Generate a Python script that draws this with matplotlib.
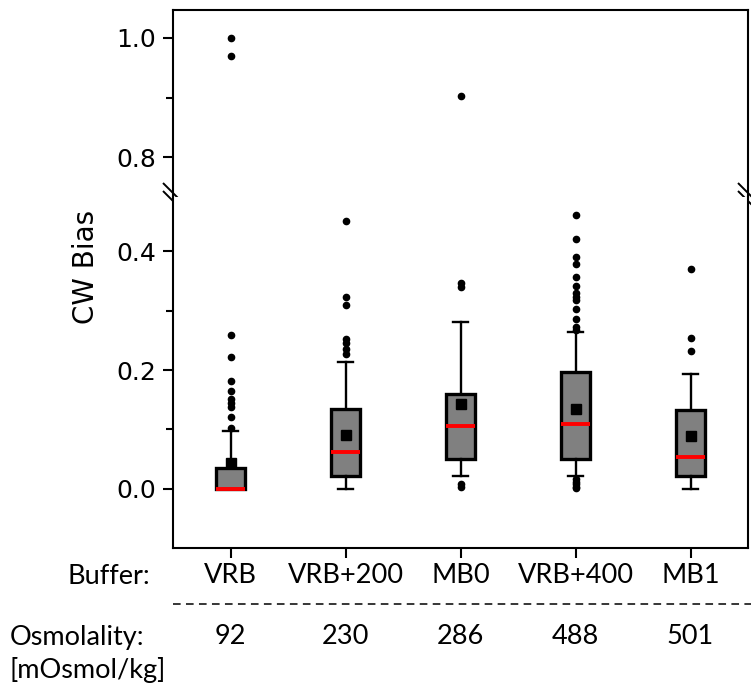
import matplotlib
matplotlib.use('Agg')
import matplotlib.pyplot as plt
from matplotlib.ticker import MultipleLocator, FormatStrFormatter
from matplotlib.lines import Line2D
import matplotlib.transforms as mtransforms

plt.rcParams['font.family'] = ['DejaVu Sans']

# ---------------- data ----------------
buffers = ['VRB', 'VRB+200', 'MB0', 'VRB+400', 'MB1']
osmolality = ['92', '230', '286', '488', '501']

q1 = [0.000, 0.021, 0.050, 0.050, 0.021]
median = [0.000, 0.062, 0.106, 0.110, 0.054]
q3 = [0.036, 0.134, 0.159, 0.196, 0.133]
whisker_low = [0.000, 0.000, 0.022, 0.021, 0.000]
whisker_high = [0.098, 0.213, 0.281, 0.264, 0.194]
means = [0.044, 0.090, 0.143, 0.134, 0.089]

fliers_vrb = [1.000, 0.970, 0.259, 0.222, 0.182, 0.164, 0.151, 0.144, 0.137, 0.121, 0.102]
fliers_vrb200 = [0.450, 0.322, 0.310, 0.252, 0.245, 0.236, 0.227]
fliers_mb0 = [0.903, 0.347, 0.340, 0.008, 0.003]
fliers_vrb400 = [0.461, 0.420, 0.390, 0.378, 0.357, 0.341, 0.329, 0.323, 0.318,
                 0.302, 0.286, 0.273, 0.268, 0.016, 0.012, 0.008, 0.004, 0.001]
fliers_mb1 = [0.370, 0.254, 0.232]
fliers = [fliers_vrb, fliers_vrb200, fliers_mb0, fliers_vrb400, fliers_mb1]

ylabel = 'CW Bias'

# ---------------- figure ----------------
stats = []
for i in range(len(buffers)):
    stats.append(dict(label=buffers[i], q1=q1[i], med=median[i], q3=q3[i],
                      whislo=whisker_low[i], whishi=whisker_high[i],
                      mean=means[i], fliers=fliers[i]))

positions = list(range(1, len(buffers) + 1))

FW, FH = 751, 691
fig = plt.figure(figsize=(FW / 100, FH / 100), dpi=100)
L = 173 / FW
W = (748 - 173) / FW
ax_top = fig.add_axes([L, (FH - 197) / FH, W, (197 - 10) / FH])
ax_bot = fig.add_axes([L, (FH - 548) / FH, W, (548 - 197) / FH])

for ax in (ax_top, ax_bot):
    ax.bxp(stats, positions=positions, widths=0.25, showmeans=True, patch_artist=True,
           boxprops=dict(facecolor='#808080', edgecolor='black', linewidth=2.4),
           medianprops=dict(color='red', linewidth=2.8),
           whiskerprops=dict(color='black', linewidth=1.7),
           capprops=dict(color='black', linewidth=1.7),
           meanprops=dict(marker='s', markerfacecolor='black', markeredgecolor='black',
                          markersize=7),
           flierprops=dict(marker='o', markerfacecolor='black', markeredgecolor='black',
                           markersize=4.5, linestyle='none'))
    ax.set_xlim(0.5, 5.5)
    for s in ax.spines.values():
        s.set_linewidth(1.5)
    ax.tick_params(axis='y', which='major', length=7, width=1.5, labelsize=18, pad=5)
    ax.tick_params(axis='y', which='minor', length=4.8, width=1.5)
    ax.yaxis.set_major_formatter(FormatStrFormatter('%.1f'))
    ax.yaxis.set_minor_locator(MultipleLocator(0.1))
    ax.yaxis.set_major_locator(MultipleLocator(0.2))
    for lab in ax.get_yticklabels():
        lab.set_fontfamily('DejaVu Sans')

ax_top.set_ylim(0.733, 1.047)
ax_bot.set_ylim(-0.0992, 0.4908)
ax_top.spines['bottom'].set_visible(False)
ax_bot.spines['top'].set_visible(False)
ax_top.tick_params(axis='x', bottom=False, labelbottom=False)

ax_bot.set_xticks(positions)
ax_bot.set_xticklabels(buffers, fontfamily='Lato', fontsize=19.5)
ax_bot.tick_params(axis='x', length=7, width=1.5, pad=4)

# y label
fig.text(86 / FW, 1 - 267 / FH, ylabel, rotation=90, ha='center', va='center',
         fontsize=20, family='DejaVu Sans')

# break marks
def brk(ax, xa):
    tr = ax.transAxes
    px_w = (748 - 173)
    px_h = (197 - 10)
    dx = 10 / px_w
    dy = 10 / px_h
    for off in (-4, 4):
        o = off / px_h
        ax.plot([xa - dx, xa + dx], [o + dy, o - dy], transform=tr, color='black',
                linewidth=1.4, clip_on=False, solid_capstyle='butt')

brk(ax_top, 0.0)
brk(ax_top, 1.0)

# lower table text
fig.text(150 / FW, 1 - 577 / FH, 'Buffer:', ha='right', va='center',
         fontsize=19.5, family='Lato')
fig.add_artist(Line2D([173 / FW, 1.0], [1 - 604 / FH, 1 - 604 / FH],
                      transform=fig.transFigure, color='black', linewidth=1.1,
                      linestyle=(0, (5, 3.5))))
fig.text(10 / FW, 1 - 637 / FH, 'Osmolality:', ha='left', va='center',
         fontsize=19.5, family='Lato')
fig.text(10 / FW, 1 - 670 / FH, '[mOsmol/kg]', ha='left', va='center',
         fontsize=19.5, family='Lato')
blend = mtransforms.blended_transform_factory(ax_bot.transData, fig.transFigure)
for p, o in zip(positions, osmolality):
    fig.text(p, 1 - 637 / FH, o, transform=blend, ha='center', va='center',
             fontsize=19.5, family='Lato')

fig.savefig('out.png', dpi=100)
